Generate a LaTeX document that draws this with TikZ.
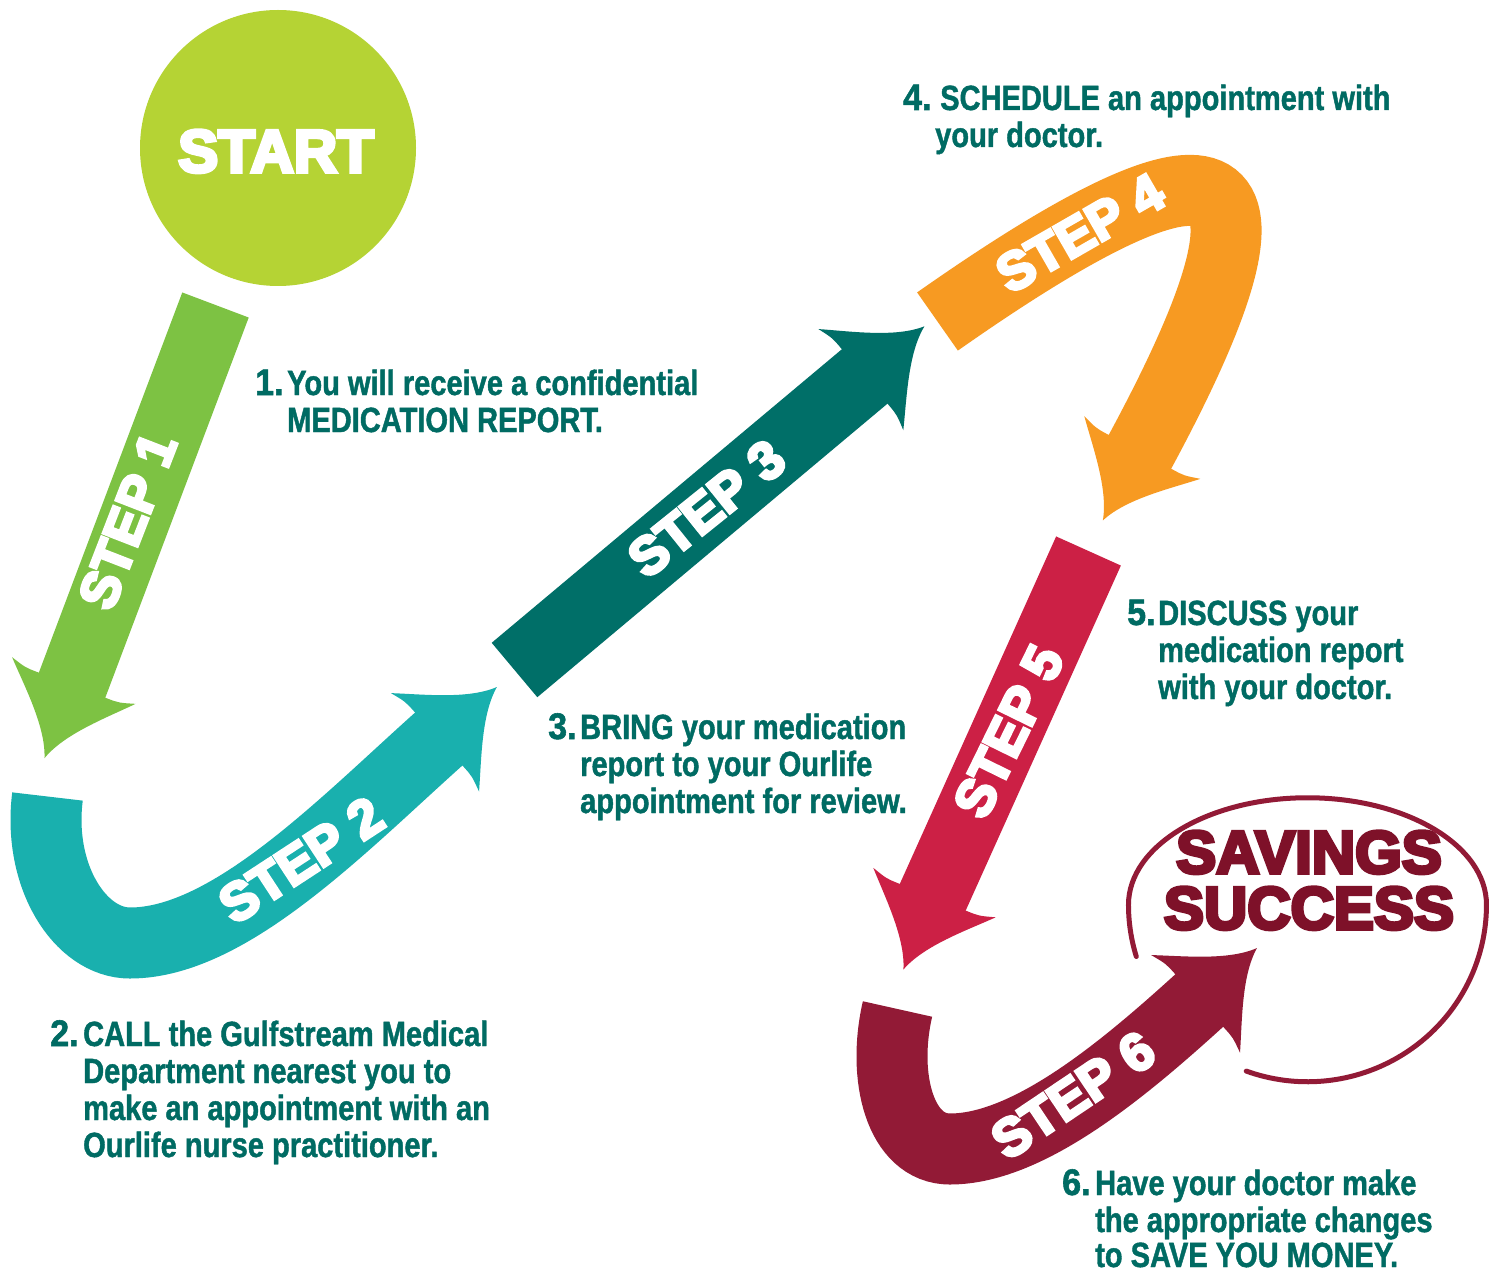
\documentclass[tikz,border=0pt]{standalone}
\usepackage{fontspec}
\setmainfont{Liberation Sans}
\newfontfamily\bodyfont{Liberation Sans}[FakeStretch=0.83,FakeBold=1.2]
\newfontfamily\numfont{Liberation Sans}[FakeStretch=0.92,FakeBold=1.5]
\newfontfamily\heavyfont{Liberation Sans}[FakeBold=6]
\usetikzlibrary{calc}
\definecolor{cstart}{HTML}{B5D334}
\definecolor{c1}{HTML}{7DC243}
\definecolor{c2}{HTML}{19B0AE}
\definecolor{c3}{HTML}{006F68}
\definecolor{c4}{HTML}{F79A22}
\definecolor{c5}{HTML}{CC2045}
\definecolor{c6}{HTML}{921A36}
\definecolor{csav}{HTML}{7E1129}
\definecolor{ctext}{HTML}{006B63}
\newcommand\stephead[3]{%
  \begin{scope}[shift={#2},rotate=#3]
    \fill[#1] (-3,37) .. controls (-3,50) .. (-8,66)
      .. controls (15,44) and (45,10) .. (75,0)
      .. controls (45,-10) and (15,-44) .. (-8,-66)
      .. controls (-3,-50) .. (-3,-37) -- cycle;
  \end{scope}}
\tikzset{
  bodytxt/.style={anchor=base west, inner sep=0pt, text=ctext, font=\bodyfont\bfseries\fontsize{35}{37}\selectfont},
  numtxt/.style={anchor=base west, inner sep=0pt, text=ctext, font=\numfont\bfseries\fontsize{37}{37}\selectfont},
  steplbl/.style={inner sep=0pt, text=white, font=\heavyfont\bfseries\fontsize{53}{53}\selectfont},
  bigtxt/.style={anchor=base, inner sep=0pt, font=\heavyfont\bfseries\fontsize{60}{60}\selectfont},
  shaft/.style={line width=71pt, line cap=butt},
  ring/.style={c6, line width=5pt, line cap=round},
}
\begin{document}
\begin{tikzpicture}[x=1pt,y=-1pt]
\useasboundingbox (0,0) rectangle (1496,1273);
\fill[white] (0,0) rectangle (1496,1273);

% START
\fill[cstart] (278,148) circle[radius=138];
\node[bigtxt, text=white] (start) at (276,172) {START};

% coordinates
\coordinate (s1a) at (215.5,305);   \coordinate (s1b) at (71,688);
\coordinate (s2a) at (47.5,796.5);  \coordinate (s2m) at (130,943);  \coordinate (s2b) at (441,737);
\coordinate (s3a) at (514.5,670);   \coordinate (s3b) at (867,374.5);
\coordinate (s4a) at (937.5,321.5); \coordinate (s4b) at (1138.5,454.5);
\coordinate (s5a) at (1088.5,551);  \coordinate (s5b) at (931.5,900);
\coordinate (s6a) at (897.5,1009);  \coordinate (s6m) at (950,1149); \coordinate (s6b) at (1201.5,998.5);

% shafts
\draw[shaft, c1] (s1a) -- (s1b);
\draw[shaft, c2] (s2a) .. controls (37.4,875.9) and (80,943) .. (s2m)
                       .. controls (230,943) and (344,823.6) .. (s2b);
\draw[shaft, c3] (s3a) -- (s3b);
\draw[shaft, c4] (s4a) .. controls (1248.7,103) and (1295.6,164.4) .. (s4b);
\draw[shaft, c5] (s5a) -- (s5b);
\draw[shaft, c6] (s6a) .. controls (881.75,1077) and (900,1149) .. (s6m)
                       .. controls (1030,1149) and (1127.5,1065.8) .. (s6b);

% heads
\stephead{c1}{(s1b)}{-110.7}
\stephead{c2}{(s2b)}{41.8}
\stephead{c3}{(s3b)}{40}
\stephead{c4}{(s4b)}{-118.4}
\stephead{c5}{(s5b)}{-112}
\stephead{c6}{(s6b)}{42.3}

% step labels
\node[steplbl, rotate=68.8] (l1) at (127.5,521) {STEP 1};
\node[steplbl, rotate=33.2] (l2) at (301,860) {STEP 2};
\node[steplbl, rotate=38.8] (l3) at (706.5,508.5) {STEP 3};
\node[steplbl, rotate=29.9] (l4) at (1080,233) {STEP 4};
\node[steplbl, rotate=63.9] (l5) at (1008.5,731.5) {STEP 5};
\node[steplbl, rotate=33.9] (l6) at (1073,1095) {STEP 6};

% savings ring (flatter dome on top, round at the bottom)
\coordinate (rs) at (1136.3,956.5);
\draw[ring] (rs) arc[start angle=163, end angle=180, x radius=179, y radius=177]
                 arc[start angle=180, end angle=360, x radius=179, y radius=107]
                 arc[start angle=0, end angle=110, x radius=179, y radius=177];
\node[bigtxt, text=csav] (sav1) at (1309,873) {SAVINGS};
\node[bigtxt, text=csav] (sav2) at (1309,929) {SUCCESS};

% text blocks
\node[numtxt] (n1) at (255,395) {1.};
\node[bodytxt] (t1a) at (287,395) {You will receive a confidential};
\node[bodytxt] (t1b) at (287,432) {MEDICATION REPORT.};

\node[numtxt] (n2) at (50,1046) {2.};
\node[bodytxt] (t2a) at (83,1046) {CALL the Gulfstream Medical};
\node[bodytxt] (t2b) at (83,1083) {Department nearest you to};
\node[bodytxt] (t2c) at (83,1120) {make an appointment with an};
\node[bodytxt] (t2d) at (83,1157) {Ourlife nurse practitioner.};

\node[numtxt] (n3) at (548,739) {3.};
\node[bodytxt] (t3a) at (580,739) {BRING your medication};
\node[bodytxt] (t3b) at (580,776) {report to your Ourlife};
\node[bodytxt] (t3c) at (580,813) {appointment for review.};

\node[numtxt] (n4) at (903,110) {4.};
\node[bodytxt] (t4a) at (940,110) {SCHEDULE an appointment with};
\node[bodytxt] (t4b) at (935,147) {your doctor.};

\node[numtxt] (n5) at (1127,625) {5.};
\node[bodytxt] (t5a) at (1158,625) {DISCUSS your};
\node[bodytxt] (t5b) at (1158,662) {medication report};
\node[bodytxt] (t5c) at (1158,699) {with your doctor.};

\node[numtxt] (n6) at (1062,1195) {6.};
\node[bodytxt] (t6a) at (1095,1195) {Have your doctor make};
\node[bodytxt] (t6b) at (1095,1232) {the appropriate changes};
\node[bodytxt] (t6c) at (1095,1267) {to SAVE YOU MONEY.};
\end{tikzpicture}
\end{document}
